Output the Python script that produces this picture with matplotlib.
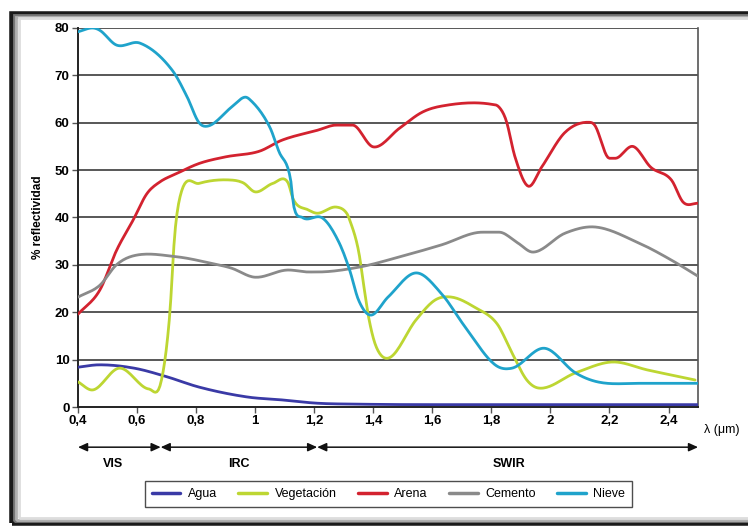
import matplotlib.pyplot as plt
from matplotlib.patches import Rectangle
import numpy as np

plt.rcParams['font.family'] = ['Liberation Sans', 'DejaVu Sans']

# reflectance curves (wavelength in um, % reflectivity)
agua_x = [0.40, 0.47, 0.59, 0.70, 0.81, 0.975, 1.09, 1.21, 1.35, 1.6, 2.0, 2.5]
agua_y = [8.4, 8.9, 8.2, 6.4, 4.2, 2.1, 1.5, 0.8, 0.6, 0.5, 0.5, 0.5]

veg_x = [0.40, 0.45, 0.54, 0.64, 0.68, 0.71, 0.728, 0.75, 0.81, 0.92, 0.96, 1.0,
         1.06, 1.11, 1.13, 1.18, 1.21, 1.275, 1.31, 1.32, 1.35, 1.37, 1.386, 1.41,
         1.45, 1.545, 1.61, 1.665, 1.745, 1.82, 1.87, 1.92, 1.96, 2.085, 2.21,
         2.33, 2.49]
veg_y = [5.3, 3.6, 8.2, 3.8, 5.0, 19.0, 36.7, 45.4, 47.2, 47.9, 47.3, 45.4,
         47.2, 47.5, 43.7, 41.6, 40.9, 42.2, 40.9, 39.5, 33.0, 24.7, 18.4, 12.7,
         10.3, 18.4, 22.6, 23.2, 21.0, 17.5, 11.4, 5.7, 4.0, 7.2, 9.5,
         7.8, 5.7]

arena_x = [0.40, 0.474, 0.53, 0.587, 0.633, 0.677, 0.735, 0.81, 0.90, 1.015,
           1.09, 1.21, 1.275, 1.33, 1.40, 1.49, 1.565, 1.63, 1.80, 1.826, 1.85,
           1.88, 1.925, 1.97, 2.05, 2.13, 2.15, 2.20, 2.22, 2.28, 2.34, 2.41,
           2.45, 2.5]
arena_y = [19.6, 24.7, 33.0, 39.5, 45.0, 47.5, 49.3, 51.4, 52.8, 54.0,
           56.3, 58.4, 59.5, 59.5, 54.9, 58.9, 62.2, 63.5, 63.9, 63.3, 60.5,
           52.8, 46.6, 50.6, 58.0, 60.1, 59.5, 52.5, 52.5, 55.0, 50.6, 47.9,
           43.2, 43.0]

cemento_x = [0.40, 0.474, 0.53, 0.587, 0.735, 0.846, 0.92, 0.998, 1.106, 1.18,
             1.21, 1.35, 1.49, 1.63, 1.77, 1.826, 1.89, 1.94, 2.05, 2.15, 2.30,
             2.41, 2.5]
cemento_y = [23.2, 25.7, 30.0, 31.9, 31.7, 30.4, 29.3, 27.4, 28.9, 28.5,
             28.5, 29.5, 31.7, 34.2, 36.9, 36.9, 34.6, 32.7, 36.7, 38.0, 34.6,
             31.0, 27.6]

nieve_x = [0.40, 0.45, 0.474, 0.53, 0.61, 0.72, 0.77, 0.81, 0.84, 0.92, 0.965,
           0.98, 1.05, 1.08, 1.12, 1.13, 1.16, 1.23, 1.285, 1.32, 1.35, 1.39,
           1.45, 1.545, 1.63, 1.71, 1.815, 1.87, 1.98, 2.085, 2.16, 2.3, 2.5]
nieve_y = [79.2, 80.0, 79.5, 76.4, 76.8, 71.0, 65.4, 60.0, 59.3, 63.3, 65.4,
           65.0, 59.0, 54.0, 48.0, 42.6, 40.0, 39.8, 34.6, 28.9, 22.6, 19.4,
           23.2, 28.3, 24.0, 17.0, 8.8, 8.2, 12.4, 7.2, 5.3, 5.0, 5.0]

series = [
    ('Agua', agua_x, agua_y, '#3a3aa6'),
    ('Vegetación', veg_x, veg_y, '#bdd632'),
    ('Arena', arena_x, arena_y, '#d3222f'),
    ('Cemento', cemento_x, cemento_y, '#8a8a8a'),
    ('Nieve', nieve_x, nieve_y, '#1fa3cb'),
]

xticks = [0.4, 0.6, 0.8, 1.0, 1.2, 1.4, 1.6, 1.8, 2.0, 2.2, 2.4]
xtick_labels = ['0,4', '0,6', '0,8', '1', '1,2', '1,4', '1,6', '1,8', '2', '2,2', '2,4']
yticks = [0, 10, 20, 30, 40, 50, 60, 70, 80]

# spectral regions below the axis
region_edges = [0.4, 0.68, 1.21, 2.5]
region_names = ['VIS', 'IRC', 'SWIR']
region_label_x = [0.52, 0.945, 1.86]


def smooth(xs, ys, n=400):
    # cubic hermite through the read points
    xs = np.asarray(xs)
    ys = np.asarray(ys)
    t = np.linspace(xs[0], xs[-1], n)
    h = np.diff(xs)
    d = np.diff(ys) / h
    m = np.zeros_like(ys)
    m[1:-1] = (d[:-1] + d[1:]) / 2
    m[0], m[-1] = d[0], d[-1]
    for k in range(len(d)):
        if d[k] == 0:
            m[k] = m[k + 1] = 0
    idx = np.clip(np.searchsorted(xs, t) - 1, 0, len(xs) - 2)
    s = (t - xs[idx]) / h[idx]
    h00 = 2 * s**3 - 3 * s**2 + 1
    h10 = s**3 - 2 * s**2 + s
    h01 = -2 * s**3 + 3 * s**2
    h11 = s**3 - s**2
    out = h00 * ys[idx] + h10 * h[idx] * m[idx] + h01 * ys[idx + 1] + h11 * h[idx] * m[idx + 1]
    return t, out


fig = plt.figure(figsize=(7.48, 5.27), dpi=100)
ax = fig.add_axes([0.1043, 0.2277, 0.8289, 0.7192])

for y in yticks[1:]:
    ax.axhline(y, color='#4a4a4a', lw=1.3, zorder=1)

for name, xs, ys, col in series:
    t, v = smooth(xs, ys)
    ax.plot(t, v, color=col, lw=2.0, label=name, zorder=3, solid_capstyle='round')

ax.set_xlim(0.4, 2.5)
ax.set_ylim(0, 80)
ax.set_xticks(xticks)
ax.set_xticklabels(xtick_labels)
ax.set_yticks(yticks)
ax.tick_params(axis='both', labelsize=9.5, length=4, width=1, color='#555555', pad=2)
for lab in ax.get_xticklabels() + ax.get_yticklabels():
    lab.set_fontweight('bold')

for side in ['left', 'bottom']:
    ax.spines[side].set_color('#222222')
    ax.spines[side].set_linewidth(1.4)
ax.spines['right'].set_color('#555555')
ax.spines['right'].set_linewidth(1.2)
ax.spines['top'].set_visible(False)

ax.set_ylabel('% reflectividad', fontsize=8.5, fontweight='bold', labelpad=8)
ax.text(2.52, -0.045, 'λ (μm)', transform=ax.get_xaxis_transform(),
        fontsize=9, ha='left', va='top')

# region arrows
trans = ax.get_xaxis_transform()
for a, b in zip(region_edges[:-1], region_edges[1:]):
    ax.annotate('', xy=(b, -0.106), xytext=(a, -0.106), xycoords=trans,
                textcoords=trans, annotation_clip=False,
                arrowprops=dict(arrowstyle='<|-|>,head_length=0.55,head_width=0.25',
                                color='#111111', lw=1.1, shrinkA=0, shrinkB=0))
for name, xpos in zip(region_names, region_label_x):
    ax.text(xpos, -0.15, name, transform=trans, ha='center', va='center',
            fontsize=9, fontweight='bold')

leg = fig.legend(loc='center', bbox_to_anchor=(0.519, 0.062), ncol=5,
                 fontsize=9, frameon=True, fancybox=False, handlelength=2.3,
                 columnspacing=1.7, handletextpad=0.6, borderpad=0.55)
leg.get_frame().set_edgecolor('#222222')
leg.get_frame().set_linewidth(1.0)
for line in leg.get_lines():
    line.set_linewidth(2.5)

# dark outer frame with soft inner shade
for i, (lw, col) in enumerate([(4.0, '#1a1a1a'), (2.0, '#777777'), (2.0, '#b0b0b0'), (2.0, '#dddddd')]):
    off = i * 0.003
    fig.patches.append(Rectangle((0.016 + off, 0.008 + off), 1.1, 0.966 - 2 * off,
                                 transform=fig.transFigure, fill=False,
                                 edgecolor=col, lw=lw, zorder=0))

fig.savefig('out.png', dpi=100)
